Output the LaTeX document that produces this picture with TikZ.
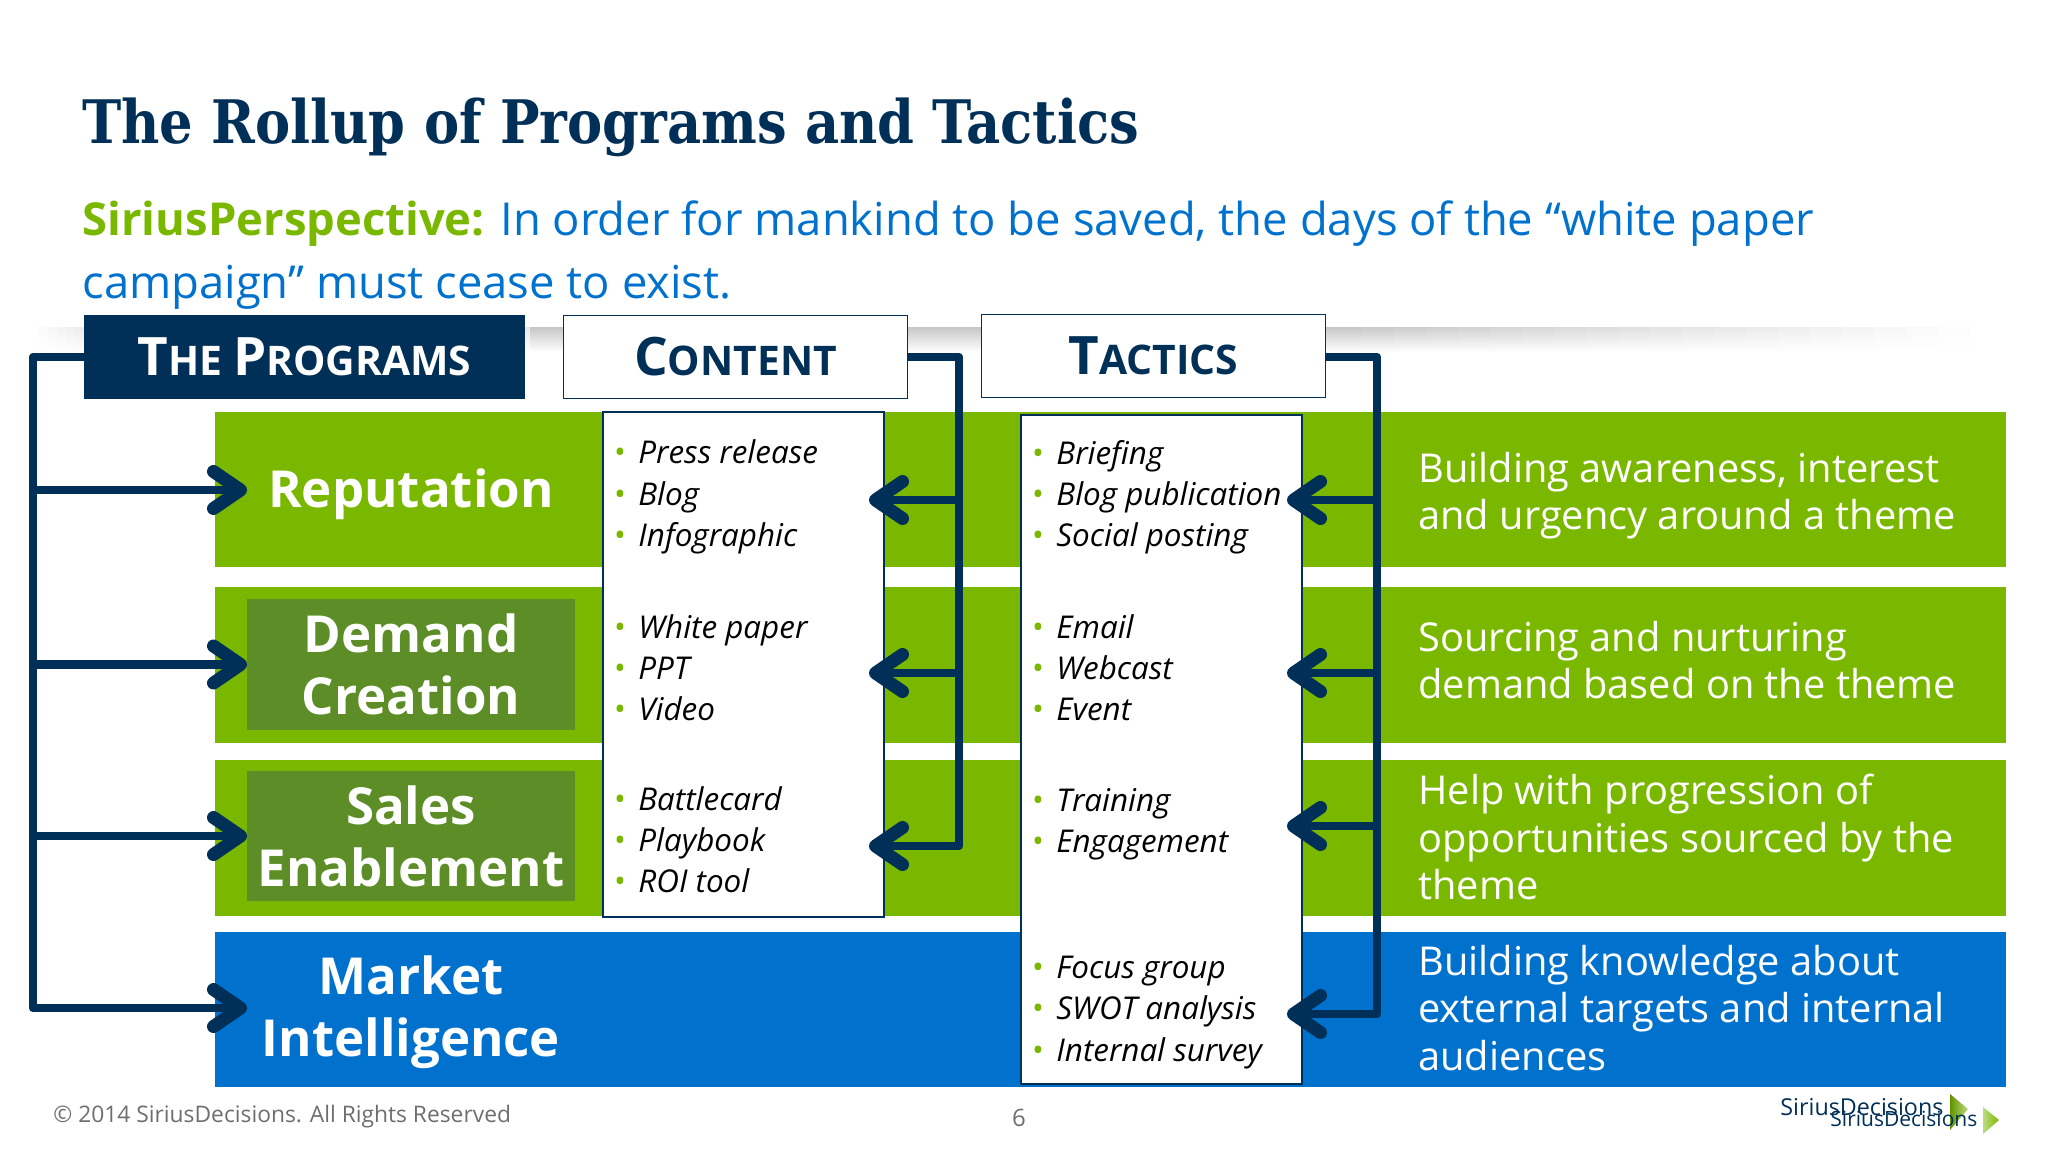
\documentclass[tikz,border=0pt]{standalone}
\usepackage{fontspec}
\setmainfont{Open Sans}
\newfontfamily\titlefont[FakeStretch=0.976]{DejaVu Serif Condensed}
\usetikzlibrary{positioning}
\usetikzlibrary{arrows.meta}

\definecolor{mynavy}{HTML}{003057}
\definecolor{mygreen}{HTML}{7AB800}
\definecolor{mydark}{HTML}{5C8D26}
\definecolor{myblue}{HTML}{0072CE}
\definecolor{mygray}{HTML}{6E6E6E}

\newcommand{\hdcap}[1]{{\fontsize{26.5}{26.5}\selectfont #1}}
\newcommand{\itm}[1]{\makebox[12.5pt][l]{\textcolor{mygreen}{\fontsize{16}{16}\selectfont\textbullet}}#1}

\begin{document}
\begin{tikzpicture}[
  x=0.5pt, y=-0.5pt,
  myband/.style={anchor=north west,inner sep=0,outer sep=0,minimum width=895.5pt},
  mylabel/.style={inner sep=0,outer sep=0,minimum width=164pt,text=white,align=center,
    font=\fontsize{25.5}{31}\selectfont\bfseries},
  myhead/.style={draw=mynavy,line width=0.8pt,fill=white,inner sep=0,minimum width=172pt,minimum height=41.5pt,
    text=mynavy,font=\fontsize{20.4}{20.4}\selectfont\bfseries},
  mylist/.style={draw=mynavy,line width=0.8pt,fill=white,anchor=north west,inner sep=0},
  myitems/.style={anchor=west,inner sep=0,align=left,font=\fontsize{15.7}{20.6}\selectfont\itshape},
  mytext/.style={anchor=west,inner sep=0,align=left,text=white,font=\fontsize{19.9}{23.6}\selectfont},
  mybus/.style={draw=mynavy,line width=4.2pt,line join=round},
  myarrow/.style={mybus,-{Straight Barb[round,length=13.5pt,width=18.5pt,line width=6.5pt]}}
]
\useasboundingbox (0,0) rectangle (2048,1152);

% grey rule behind the headers
\foreach \x in {30,39,...,84}
  \pgfmathsetmacro{\lev}{9*(\x-30)/54}
  \shade[top color=black!\lev,bottom color=white] (\x,327) rectangle (\x+10,352);
\shade[top color=black!9,bottom color=white] (84,327) rectangle (530,352);
\shade[top color=black!22,bottom color=white] (530,327) rectangle (1330,352);
\foreach \x in {1330,1362,...,1970}
  \pgfmathsetmacro{\lev}{22*(1970-\x)/640}
  \shade[top color=black!\lev,bottom color=white] (\x,327) rectangle (\x+33,352);

\node[anchor=base west,inner sep=0,text=mynavy,font=\titlefont\fontsize{30}{36}\selectfont\bfseries] (title) at (82,143) {The Rollup of Programs and Tactics};
\node[anchor=base west,inner sep=0,text=myblue,font=\fontsize{22.7}{31}\selectfont] (persp1) at (82,235) {\textcolor{mygreen}{\textbf{SiriusPerspective:}} In order for mankind to be saved, the days of the “white paper};
\node[anchor=base west,inner sep=0,text=myblue,font=\fontsize{22.7}{31}\selectfont] (persp2) at (82,298) {campaign” must cease to exist.};

\node[myband,fill=mygreen,minimum height=77.5pt] (band1) at (215,412) {};
\node[myband,fill=mygreen,minimum height=78pt] (band2) at (215,587) {};
\node[myband,fill=mygreen,minimum height=78pt] (band3) at (215,760) {};
\node[myband,fill=myblue,minimum height=77.5pt] (band4) at (215,932) {};

\node[mylabel,minimum height=65pt] (reput) at (411,490) {\rule{0pt}{23.5pt}Reputation};
\node[mylabel,fill=mydark,minimum height=65.5pt] (demand) at (411,664.5) {Demand\\Creation};
\node[mylabel,fill=mydark,minimum height=65pt] (sales) at (411,836) {Sales\\Enablement};
\node[mylabel,minimum height=65pt] (market) at (411,1008) {\rule{0pt}{24pt}Market\\Intelligence};

\node[mylist,minimum width=140.5pt,minimum height=252.5pt] (contbox) at (602,411) {};
\node[mylist,minimum width=140.5pt,minimum height=334.5pt] (tactbox) at (1020,414) {};

\node[myitems] (cont1) at (613,497) {\itm{Press release}\\\itm{Blog}\\\itm{Infographic}};
\node[myitems] (cont2) at (613,668) {\itm{White paper}\\\itm{PPT}\\\itm{Video}};
\node[myitems] (cont3) at (613,840) {\itm{Battlecard}\\\itm{Playbook}\\\itm{ROI tool}};
\node[myitems] (tact1) at (1031,497) {\itm{Briefing}\\\itm{Blog publication}\\\itm{Social posting}};
\node[myitems] (tact2) at (1031,668) {\itm{Email}\\\itm{Webcast}\\\itm{Event}};
\node[myitems] (tact3) at (1031,824) {\itm{Training}\\\itm{Engagement}};
\node[myitems] (tact4) at (1031,1012.5) {\itm{Focus group}\\\itm{SWOT analysis}\\\itm{Internal survey}};

\node[mytext] (why1) at (1418,496) {Building awareness, interest\\and urgency around a theme};
\node[mytext] (why2) at (1418,660) {Sourcing and nurturing\\demand based on the theme};
\node[mytext] (why3) at (1418,837) {Help with progression of\\opportunities sourced by the\\theme};
\node[mytext] (why4) at (1418,1008) {Building knowledge about\\external targets and internal\\audiences};

\node[myhead,fill=mynavy,text=white,minimum width=220pt] (proghd) at (304.5,357) {\hdcap{T}HE \hdcap{P}ROGRAMS};
\node[myhead] (conthd) at (735.5,357) {\hdcap{C}ONTENT};
\node[myhead] (tacthd) at (1153.5,356) {\hdcap{T}ACTICS};

\coordinate (lbusT) at (33,357);
\coordinate (cbusT) at (959,357);
\coordinate (tbusT) at (1377,357);
\coordinate (carr1) at (869,500);
\coordinate (carr2) at (869,673);
\coordinate (carr3) at (869,846);
\coordinate (tarr1) at (1287,500);
\coordinate (tarr2) at (1287,673);
\coordinate (tarr3) at (1287,826);
\coordinate (tarr4) at (1287,1014);

\draw[myarrow] (proghd.west) -- (lbusT) |- (market.west);
\draw[myarrow] (lbusT |- reput.west) -- (reput.west);
\draw[myarrow] (lbusT |- demand.west) -- (demand.west);
\draw[myarrow] (lbusT |- sales.west) -- (sales.west);

\draw[myarrow] (conthd.east) -- (cbusT) |- (carr3);
\draw[myarrow] (cbusT |- carr1) -- (carr1);
\draw[myarrow] (cbusT |- carr2) -- (carr2);

\draw[myarrow] (tacthd.east |- tbusT) -- (tbusT) |- (tarr4);
\draw[myarrow] (tbusT |- tarr1) -- (tarr1);
\draw[myarrow] (tbusT |- tarr2) -- (tarr2);
\draw[myarrow] (tbusT |- tarr3) -- (tarr3);

\node[anchor=base west,inner sep=0,text=mygray,font=\fontsize{11.4}{14}\selectfont] (copyr) at (53,1122) {© 2014 SiriusDecisions. All Rights Reserved};
\node[anchor=base,inner sep=0,text=mygray,font=\fontsize{12}{14}\selectfont] (pagenr) at (1019,1126) {6};

\node[anchor=base west,inner sep=0,text=mynavy,font=\fontsize{11.65}{14}\selectfont] (logo1) at (1780,1115) {SiriusDecisions};
\shade[left color=mygreen!80!black,right color=mygreen!50!white] (1950,1094) -- (1968,1109) -- (1950,1130) -- cycle;
\node[anchor=base west,inner sep=0,text=mynavy,font=\fontsize{10.5}{14}\selectfont] (logo2) at (1830,1126) {SiriusDecisions};
\shade[left color=mygreen!50!white,right color=mygreen] (1983,1107) -- (1999,1120) -- (1983,1134) -- cycle;
\end{tikzpicture}
\end{document}
